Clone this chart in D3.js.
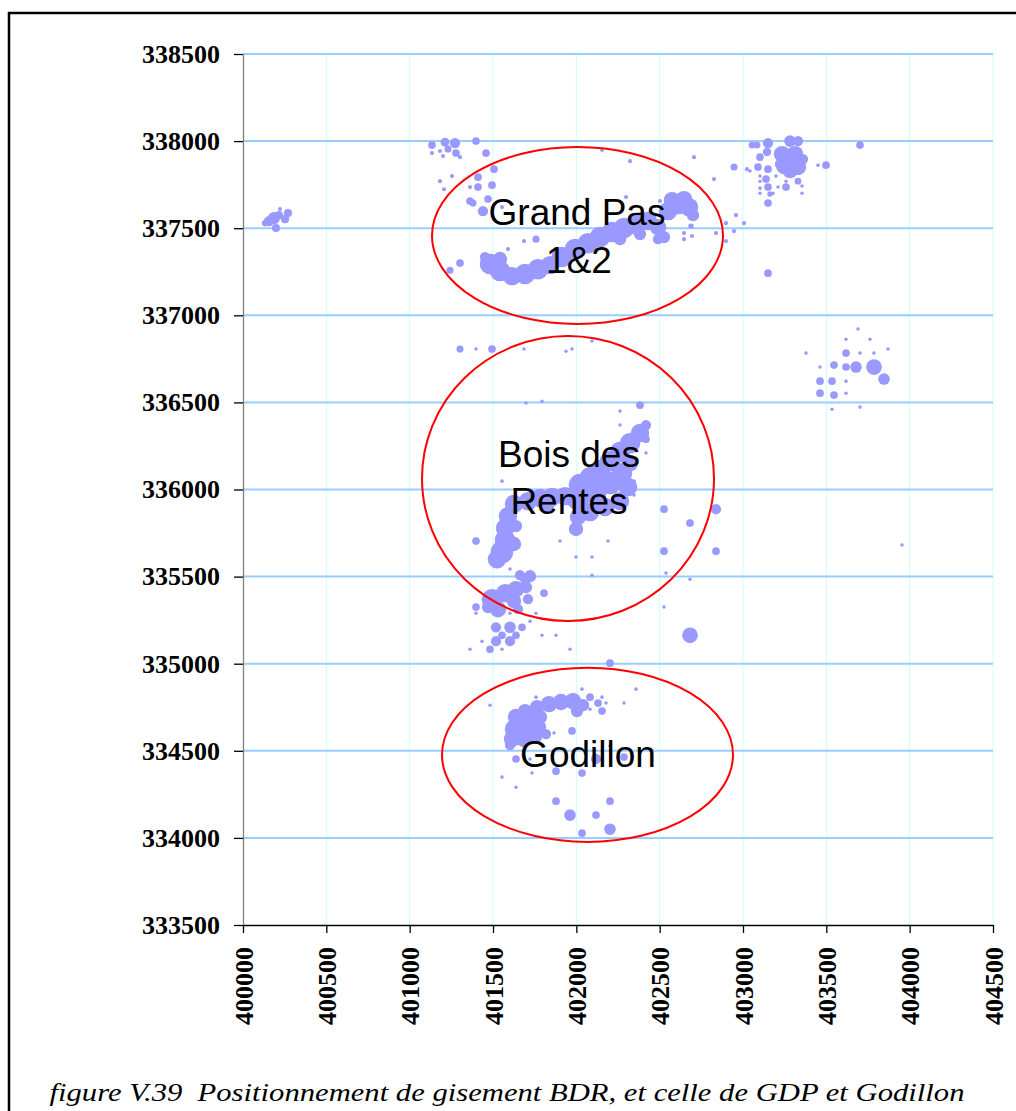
<!DOCTYPE html>
<html><head><meta charset="utf-8">
<script src="https://cdn.jsdelivr.net/npm/d3@7"></script>
<style>body{margin:0;background:#fff}</style>
</head><body>
<svg id="c" width="1016" height="1111"></svg>
<script>
// ---- data (map coordinates x, y, bubble size) ----
const xTicks = [400000,400500,401000,401500,402000,402500,403000,403500,404000,404500];
const yTicks = [333500,334000,334500,335000,335500,336000,336500,337000,337500,338000,338500];

const westCluster = [
 [400156,337541,25],[400186,337558,36],[400198,337501,16],[400222,337610,4],[400270,337587,16],
 [400252,337552,16],[400216,337575,16],[400132,337529,9]
];
const grandPasScatter = [
 [401134,337977,14],[401212,337994,18],[401272,337989,25],[401230,337954,12],[401182,337943,4],
 [401134,337931,4],[401200,337914,4],[401278,337931,14],[401302,337908,4],[401398,338000,14],
 [401458,337931,14],[401506,337839,14],[401410,337793,14],[401494,337747,14],[401410,337736,14],
 [401362,337736,4],[401254,337799,4],[401182,337770,4],[401206,337724,4],[401362,337656,14],
 [401380,337644,12],[401470,337667,14],[401440,337598,25],[401554,337621,4],[401242,337259,12],
 [401302,337300,14],[401590,337380,4],[401686,337426,4],[401758,337437,12],[402064,337667,3],
 [402154,337948,3],[402298,337679,4],[402322,337885,4],[402502,337656,4],[402706,337908,4],
 [402826,337782,4],[402946,337851,12],[403024,337839,4],[402958,337575,4],[403006,337529,4],
 [402898,337529,4],[402838,337472,4],[402946,337483,4],[402898,337426,4],[402646,337472,4],
 [402646,337437,4],[402694,337455,4],[402688,337512,7]
];
const grandPasCore = [
 [401482,337294,100],[401542,337254,100],[401614,337225,81],[401692,337237,100],[401770,337265,100],
 [401842,337288,81],[401542,337323,49],[401452,337334,25],[401914,337334,100],[401992,337380,100],
 [402070,337414,100],[402142,337449,100],[402214,337478,100],[402286,337501,100],[402358,337523,100],
 [402430,337541,81],[402490,337506,64],[402526,337449,36],[402262,337437,36],[402382,337466,36],
 [402550,337598,81],[402610,337639,100],[402676,337621,81],[402700,337575,36],[402574,337661,64],
 [402646,337667,64],[402490,337437,25]
];
const northEast = [
 [403054,337977,11],[403084,337977,11],[403150,337989,25],[403144,337937,16],[403282,338000,32],
 [403330,338000,25],[403234,337925,64],[403312,337925,64],[403252,337862,81],[403330,337851,64],
 [403222,337868,25],[403282,337828,49],[403360,337897,25],[403102,337908,14],[403090,337851,14],
 [403150,337839,14],[403042,337828,3],[403102,337799,3],[403138,337782,14],[403198,337799,3],
 [403102,337770,3],[403102,337730,3],[403102,337701,3],[403150,337736,14],[403258,337736,14],
 [403210,337736,3],[403162,337696,7],[403180,337701,3],[403150,337644,14],[403258,337770,3],
 [403330,337770,11],[403354,337742,3],[403354,337701,3],[403306,337805,3],[403450,337862,3],
 [403498,337862,14],[403702,337977,14],[403150,337242,14]
];
const eastCluster = [
 [403690,336921,3],[403618,336863,3],[403762,336863,3],[403378,336783,3],[403618,336783,14],
 [403702,336783,3],[403786,336783,3],[403870,336806,3],[403462,336703,3],[403546,336714,14],
 [403618,336703,14],[403678,336703,32],[403786,336703,59],[403846,336634,32],[403462,336622,14],
 [403534,336622,14],[403618,336622,3],[403462,336553,14],[403546,336542,14],[403618,336553,3],
 [403534,336461,3],[403702,336473,3],[403954,335681,3]
];
const boisScatter = [
 [401302,336806,12],[401398,336806,3],[401494,336806,14],[401686,336806,3],[401938,336794,3],
 [401974,336806,3],[402094,336852,3],[401698,336496,3],[401794,336507,3],[402382,336484,14],
 [402262,336450,3],[402262,336370,3],[402418,336370,25],[402418,336289,14],[402418,336209,3],
 [401554,336048,3],[402346,336048,3],[402346,335968,3],[402526,335887,14],[402838,335887,25],
 [402682,335807,14],[401398,335704,14],[401902,335704,3],[402190,335704,3],[402526,335646,14],
 [402838,335646,14],[401998,335612,3],[402094,335612,3],[401602,335543,3],[402094,335508,3],
 [402538,335520,3],[402682,335485,3],[401806,335405,14],[401398,335325,14],[401398,335290,3],
 [401602,335290,3],[401758,335290,3],[401722,335244,3],[402526,335325,3],[401518,335209,25],
 [401602,335209,32],[401674,335209,14],[401638,335163,14],[401554,335163,14],[401518,335129,25],
 [401602,335129,25],[401434,335129,3],[401482,335083,14],[401362,335083,3],[401554,335083,3],
 [401794,335163,3],[401878,335163,3],[401962,335083,3],[402682,335163,59],[402202,335003,14]
];
const boisCore = [
 [402382,336324,81],[402322,336266,100],[402262,336215,100],[402202,336163,100],[402142,336111,100],
 [402082,336071,100],[402022,336025,121],[402010,335945,121],[402112,335980,121],[402202,336037,121],
 [402274,336094,100],[402322,336151,64],[402310,336014,81],[402262,335934,81],[402172,335899,81],
 [402082,335870,81],[402010,335842,64],[401998,335773,49],[401932,335962,81],[401854,335957,81],
 [401782,335951,81],[401710,335933,81],[401830,335899,36],[401626,335917,81],[401590,335847,81],
 [401572,335779,81],[401572,335710,100],[401554,335641,121],[401524,335600,81],[401638,335790,36],
 [401626,335687,49],[401662,335508,25],[401722,335502,36],[401692,335485,25],[401494,335370,100],
 [401572,335405,81],[401638,335428,64],[401698,335439,36],[401626,335359,49],[401710,335370,25],
 [401530,335313,64],[401470,335325,36],[401650,335313,25]
];
const godillon = [
 [401482,334762,3],[401758,334808,3],[402034,334854,3],[402358,334854,3],[402082,334808,14],
 [402154,334808,3],[402130,334774,14],[402178,334774,3],[402286,334774,3],[402154,334728,14],
 [402082,334739,3],[401692,334728,49],[401764,334751,49],[401836,334768,64],[401908,334780,64],
 [401980,334785,64],[402040,334762,36],[402004,334728,36],[401638,334694,64],[401710,334705,64],
 [401782,334694,49],[401626,334625,81],[401704,334636,81],[401776,334636,49],[401614,334568,64],
 [401686,334568,64],[401758,334579,36],[401602,334533,25],[401818,334596,25],
 [401866,334602,3],[401974,334614,14],[402202,334527,3],
 [401638,334453,14],[401722,334453,3],[402118,334453,25],[402286,334464,14],[401878,334383,14],
 [402034,334372,14],[401734,334372,3],[401554,334349,3],[401638,334291,3],[401878,334211,14],
 [402202,334211,14],[401962,334131,32],[402118,334131,14],[402202,334050,32],[402034,334027,14]
];
// zone outlines: centre x, centre y, half-width, half-height (map units)
const zones = [
 {cx:402007, cy:337458, rx:873, ry:508},
 {cx:401950, cy:336063, rx:876, ry:818},
 {cx:402067, cy:334477, rx:873, ry:500}
];
const zoneLabels = [
 {x:402004, y:337518, t:"Grand Pas"},
 {x:402016, y:337242, t:"1&2"},
 {x:401956, y:336128, t:"Bois des"},
 {x:401956, y:335859, t:"Rentes"},
 {x:402070, y:334406, t:"Godillon"}
];
const caption = "figure V.39  Positionnement de gisement BDR, et celle de GDP et Godillon";

// ---- drawing ----
const svg = d3.select("#c");
const x = d3.scaleLinear().domain([400000,404500]).range([243,993]);
const y = d3.scaleLinear().domain([333500,338500]).range([925,54]);
const r = d3.scaleSqrt().domain([0,144]).range([0,12.3]);

svg.append("rect").attr("x",9).attr("y",13).attr("width",1030).attr("height",1120)
  .attr("fill","#fff").attr("stroke","#000").attr("stroke-width",2.5);

svg.append("g").selectAll("line").data(xTicks.slice(1)).join("line")
  .attr("x1",d=>x(d)).attr("x2",d=>x(d)).attr("y1",y(338500)).attr("y2",y(333500))
  .attr("stroke","#ccffff").attr("stroke-width",1);
svg.append("g").selectAll("line").data(yTicks.slice(1)).join("line")
  .attr("x1",x(400000)).attr("x2",x(404500)).attr("y1",d=>y(d)).attr("y2",d=>y(d))
  .attr("stroke","#99ccff").attr("stroke-width",2);

const fontAxis = "'Liberation Serif','Times New Roman',serif";
const yAxis = svg.append("g").attr("transform",`translate(${x(400000)},0)`)
  .call(d3.axisLeft(y).tickValues(yTicks).tickSize(9).tickSizeOuter(0).tickPadding(14).tickFormat(d3.format("d")));
yAxis.select(".domain").attr("stroke","#808080").attr("stroke-width",1.3);
yAxis.selectAll(".tick line").attr("stroke","#000").attr("stroke-width",1.3);
yAxis.selectAll("text").attr("font-family",fontAxis).attr("font-weight","bold").attr("font-size",26).attr("fill","#000");

const xAxis = svg.append("g").attr("transform",`translate(0,${y(333500)})`)
  .call(d3.axisBottom(x).tickValues(xTicks).tickSize(8).tickSizeOuter(0).tickFormat(d3.format("d")));
xAxis.select(".domain").attr("stroke","#000").attr("stroke-width",1.3);
xAxis.selectAll(".tick line").attr("stroke","#000").attr("stroke-width",1.3);
xAxis.selectAll("text").attr("font-family",fontAxis).attr("font-weight","bold").attr("font-size",26).attr("fill","#000")
  .attr("transform","rotate(-90)").attr("x",-22).attr("y",0).attr("dy","0.35em").attr("text-anchor","end");

const all = [].concat(westCluster, grandPasScatter, grandPasCore, northEast, eastCluster, boisScatter, boisCore, godillon);
svg.append("g").selectAll("circle").data(all).join("circle")
  .attr("cx",d=>x(d[0])).attr("cy",d=>y(d[1])).attr("r",d=>r(d[2]))
  .attr("fill","#9999ff");

svg.append("g").selectAll("ellipse").data(zones).join("ellipse")
  .attr("cx",d=>x(d.cx)).attr("cy",d=>y(d.cy))
  .attr("rx",d=>x(d.cx+d.rx)-x(d.cx)).attr("ry",d=>y(d.cy-d.ry)-y(d.cy))
  .attr("fill","none").attr("stroke","#ff0000").attr("stroke-width",2);

svg.append("g").selectAll("text").data(zoneLabels).join("text")
  .attr("x",d=>x(d.x)).attr("y",d=>y(d.y)).attr("text-anchor","middle")
  .attr("font-family","'Liberation Sans',Arial,sans-serif").attr("font-size",37).attr("fill","#000")
  .text(d=>d.t);

svg.append("text").attr("x",507).attr("y",1101).attr("text-anchor","middle")
  .attr("font-family",fontAxis).attr("font-style","italic").attr("font-size",26)
  .attr("textLength",915).attr("lengthAdjust","spacingAndGlyphs")
  .style("white-space","pre").text(caption);
</script>
</body></html>
